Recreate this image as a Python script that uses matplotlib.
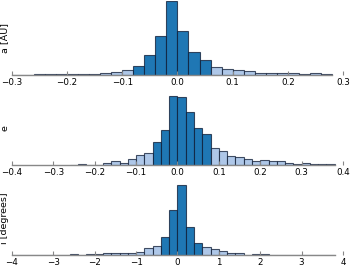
import numpy as np
import matplotlib
matplotlib.use("Agg")
import matplotlib.pyplot as plt

DARK = "#1f77b4"
LIGHT = "#aec7e8"

# Panel a: bin width 0.02, starting at -0.30
a_start, a_width = -0.30, 0.02
a_counts = [1.5, 1.5, 2, 2, 2, 3, 3, 4, 5, 8, 16,
            27, 60, 117, 222, 132, 70, 44,
            23, 19, 14, 11, 7, 7, 5, 7, 4, 5, 3]
a_dark = (-0.08, 0.06)
a_ticks = [-0.3, -0.2, -0.1, 0.0, 0.1, 0.2, 0.3]
a_ticklabels = ["\u22120.3", "\u22120.2", "\u22120.1", "0.0", "0.1", "0.2", "0.3"]

# Panel e: bin width 0.02, starting at -0.26
e_start, e_width = -0.26, 0.02
e_counts = [1, 3, 1, 1, 7, 13, 8, 19, 32, 37,
            69, 105, 209, 206, 161, 113, 93,
            51, 42, 29, 24, 19, 14, 16, 14, 13, 8, 4, 7, 4, 5, 4]
e_dark = (-0.06, 0.08)
e_ticks = [-0.4, -0.3, -0.2, -0.1, 0.0, 0.1, 0.2, 0.3, 0.4]
e_ticklabels = ["\u22120.4", "\u22120.3", "\u22120.2", "\u22120.1", "0.0", "0.1", "0.2", "0.3", "0.4"]

# Panel i: bin width 0.2, starting at -4.0
i_start, i_width = -4.0, 0.2
i_counts = [0.5, 0.5, 0.5, 0.5, 1, 2, 2, 3, 2, 4, 4, 6, 6, 6, 8, 10, 22, 29,
            54, 137, 210, 85, 36,
            24, 20, 12, 7, 7, 1, 4, 3, 1, 0.5, 0.5, 0.5, 2, 1, 1, 0.5]
i_dark = (-0.4, 0.6)
i_ticks = [-4, -3, -2, -1, 0, 1, 2, 3, 4]
i_ticklabels = ["\u22124", "\u22123", "\u22122", "\u22121", "0", "1", "2", "3", "4"]

panels = [
    (a_start, a_width, a_counts, a_dark, a_ticks, a_ticklabels, "a [AU]", (-0.3, 0.3), 0.720),
    (e_start, e_width, e_counts, e_dark, e_ticks, e_ticklabels, "e", (-0.4, 0.4), 0.383),
    (i_start, i_width, i_counts, i_dark, i_ticks, i_ticklabels, "i [degrees]", (-4, 4), 0.047),
]

fig = plt.figure(figsize=(3.5, 2.68), dpi=100)
for start, width, counts, dark, ticks, tlabels, ylabel, xlim, bottom in panels:
    ax = fig.add_axes([0.034, bottom, 0.946, 0.276])
    counts = np.asarray(counts, dtype=float)
    lefts = start + width * np.arange(len(counts))
    centers = lefts + width / 2
    colors = [DARK if (dark[0] - 1e-9 <= c <= dark[1] + 1e-9) else LIGHT for c in centers]
    ax.bar(lefts, counts, width=width, align="edge", color=colors,
           edgecolor=(0.05, 0.1, 0.2, 0.75), linewidth=0.8)
    ax.set_xlim(*xlim)
    ax.set_ylim(0, 222)
    for s in ("top", "left", "right"):
        ax.spines[s].set_visible(False)
    ax.spines["bottom"].set_color("#888888")
    ax.spines["bottom"].set_linewidth(1.0)
    ax.spines["bottom"].set_bounds(xlim[0], lefts[-1] + width)
    ax.set_yticks([])
    ax.set_xticks(ticks)
    ax.set_xticklabels(tlabels)
    ax.tick_params(axis="x", direction="in", length=3, color="#888888",
                   labelsize=6.3, pad=2)
    ax.set_ylabel(ylabel, fontsize=6.8)
    ax.yaxis.set_label_coords(-0.008, 0.5)
    ax.patch.set_visible(False)

fig.savefig("out.png", dpi=100)
